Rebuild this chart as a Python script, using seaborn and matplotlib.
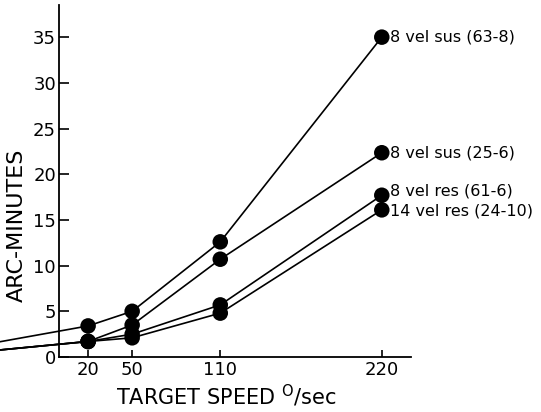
import matplotlib
matplotlib.use("Agg")
import pandas as pd
import seaborn as sns
import matplotlib.pyplot as plt

sns.set_style("ticks", rc={"text.color": "black", "axes.edgecolor": "black",
                           "xtick.color": "black", "ytick.color": "black",
                           "axes.labelcolor": "black"})
plt.rcParams["font.family"] = ["DejaVu Sans"]

# target speed (deg/sec) and error in arc-minutes for each condition
speeds = [20, 50, 110, 220]
series_names = ["8 vel sus (63-8)", "8 vel sus (25-6)", "8 vel res (61-6)", "14 vel res (24-10)"]
sus_63 = [3.4, 5.0, 12.6, 35.0]
sus_25 = [1.7, 3.5, 10.7, 22.35]
res_61 = [1.7, 2.5, 5.7, 17.7]
res_24 = [1.7, 2.1, 4.8, 16.1]
# the drawn lines carry on past the y axis to the page edge
start_speed = -40
start_vals = [1.67, 0.77, 0.77, 0.77]
label_dy = [0, 0, 3, -1]

all_vals = [sus_63, sus_25, res_61, res_24]

rows = []
line_rows = []
for name, vals, s0 in zip(series_names, all_vals, start_vals):
    line_rows.append({"speed": start_speed, "arcmin": s0, "cond": name})
    for sp, v in zip(speeds, vals):
        rows.append({"speed": sp, "arcmin": v, "cond": name})
        line_rows.append({"speed": sp, "arcmin": v, "cond": name})
points = pd.DataFrame(rows)
lines = pd.DataFrame(line_rows)

fig = plt.figure(figsize=(5.41, 4.12), dpi=100)
ax = fig.add_axes([0.0, 0.1335, 0.76, 0.854])

black = {n: "black" for n in series_names}
sns.lineplot(data=lines, x="speed", y="arcmin", hue="cond", palette=black,
             estimator=None, sort=False, legend=False, linewidth=1.2, ax=ax)
sns.scatterplot(data=points, x="speed", y="arcmin", hue="cond", palette=black,
                s=125, edgecolor="black", linewidth=0, legend=False, ax=ax, zorder=3)

for name, vals, dy in zip(series_names, all_vals, label_dy):
    ax.annotate(name, (speeds[-1], vals[-1]), xytext=(6, dy), textcoords="offset points",
                ha="left", va="center", fontsize=11.5, annotation_clip=False)

ax.set_xlim(start_speed, 240)
ax.set_ylim(0, 38.5)
ax.spines["left"].set_position(("data", 0))
ax.spines["bottom"].set_bounds(0, 240)
ax.spines["top"].set_visible(False)
ax.spines["right"].set_visible(False)
for sp in ["left", "bottom"]:
    ax.spines[sp].set_linewidth(1.3)

ax.set_xticks(speeds)
ax.set_yticks(range(0, 40, 5))
ax.tick_params(axis="both", direction="in", labelsize=13, width=1.2)
ax.tick_params(axis="y", length=7, pad=2)
ax.tick_params(axis="x", length=5, pad=3)

ax.set_xlabel("")
ax.set_ylabel("")
fig.text(0.418, 0.040, "TARGET SPEED $^{\\mathsf{O}}$/sec", ha="center", va="center", fontsize=15)
fig.text(0.031, 0.452, "ARC-MINUTES", rotation=90, ha="center", va="center", fontsize=16)

fig.savefig("out.png", dpi=100)
